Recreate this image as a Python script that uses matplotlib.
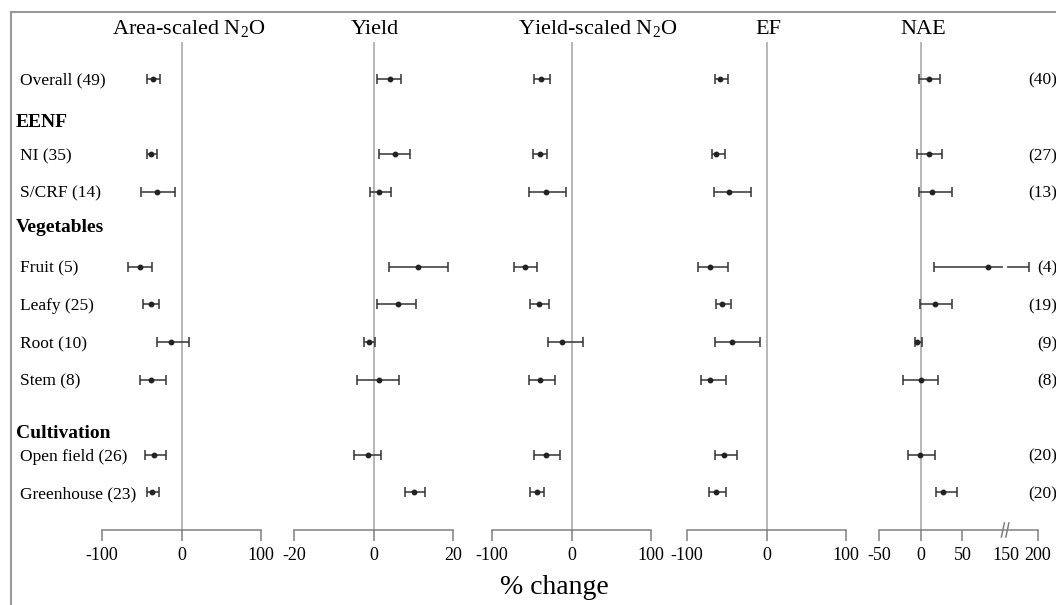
import numpy as np
import matplotlib
matplotlib.use('Agg')
import matplotlib.pyplot as plt
import matplotlib.transforms as mtransforms
from matplotlib.lines import Line2D

plt.rcParams['font.family'] = ['Liberation Serif', 'DejaVu Serif']
plt.rcParams['mathtext.fontset'] = 'custom'
plt.rcParams['mathtext.rm'] = 'Liberation Serif'
plt.rcParams['axes.unicode_minus'] = False

# rows (top to bottom)
row_labels = ['Overall (49)', 'NI (35)', 'S/CRF (14)', 'Fruit (5)', 'Leafy (25)',
              'Root (10)', 'Stem (8)', 'Open field (26)', 'Greenhouse (23)']
row_pos = [0, 2, 3, 5, 6, 7, 8, 10, 11]
group_labels = ['EENF', 'Vegetables', 'Cultivation']
group_pos = [1.12, 3.91, 9.39]
nae_n = ['(40)', '(27)', '(13)', '(4)', '(19)', '(9)', '(8)', '(20)', '(20)']

# % change: mean, lower CI, upper CI
area_mean = [-36, -38, -31, -52, -38, -13, -38, -34, -37]
area_lo = [-43, -44, -51, -67, -48, -31, -52, -46, -44]
area_hi = [-27, -31, -8, -37, -28, 10, -19, -20, -28]

yield_mean = [4.1, 5.4, 1.3, 11.1, 6.1, -1.1, 1.3, -1.4, 10.2]
yield_lo = [0.9, 1.3, -1.0, 3.9, 1.0, -2.4, -4.2, -5.0, 8.0]
yield_hi = [7.0, 9.3, 4.3, 18.7, 10.6, 0.4, 6.4, 1.8, 13.0]

ys_mean = [-38, -40, -32, -59, -41, -12, -39, -32, -44]
ys_lo = [-47, -49, -54, -72, -52, -30, -53, -47, -52]
ys_hi = [-27, -31, -7, -44, -28, 15, -21, -15, -35]

ef_mean = [-58, -63, -47, -71, -56, -44, -71, -54, -63]
ef_lo = [-65, -69, -66, -86, -64, -65, -83, -65, -72]
ef_hi = [-48, -52, -20, -48, -45, -8, -51, -37, -51]

nae_mean = [10, 10, 13, 81, 17, -4, 0, -1, 27]
nae_lo = [-2, -5, -2, 16, -1, -7, -21, -15, 18]
nae_hi = [23, 26, 38, 186, 38, 1, 21, 17, 43]

titles = [r'Area-scaled N$_{\mathrm{2}}$O', 'Yield', r'Yield-scaled N$_{\mathrm{2}}$O', 'EF', 'NAE']
title_x = [0.547, 0.51, 0.667, 0.51, 0.276]
panel_left = [102, 294, 492, 687, 879]
ticks = [[-100, 0, 100], [-20, 0, 20], [-100, 0, 100], [-100, 0, 100], [-50, 0, 50, 150, 200]]
limits = [(-100, 100), (-20, 20), (-100, 100), (-100, 100), (-50, 200)]
series = [(area_mean, area_lo, area_hi), (yield_mean, yield_lo, yield_hi),
          (ys_mean, ys_lo, ys_hi), (ef_mean, ef_lo, ef_hi), (nae_mean, nae_lo, nae_hi)]


def nae_fwd(v):
    v = np.asarray(v, dtype=float)
    return np.where(v <= 100, v,
                    np.where(v < 150, 100 + (v - 100) * 0.04, 102 + (v - 150) * 0.77))


def nae_inv(u):
    u = np.asarray(u, dtype=float)
    return np.where(u <= 100, u,
                    np.where(u < 102, 100 + (u - 100) / 0.04, 150 + (u - 102) / 0.77))


W, H = 1056, 605
fig = plt.figure(figsize=(W / 100, H / 100), dpi=100)
top_px, bot_px, width_px = 42, 530, 159

axes = []
for i in range(5):
    ax = fig.add_axes([panel_left[i] / W, (H - bot_px) / H, width_px / W, (bot_px - top_px) / H])
    if i == 4:
        ax.set_xscale('function', functions=(nae_fwd, nae_inv))
    mean, lo, hi = series[i]
    mean = np.array(mean, dtype=float)
    err = [mean - np.array(lo), np.array(hi) - mean]
    ax.axvline(0, color='#aaaaaa', lw=1.2, zorder=1)
    ax.errorbar(mean, row_pos, xerr=err, fmt='o', color='#222222', ms=3.2,
                elinewidth=1.1, capsize=3.6, capthick=1.1, ecolor='#333333', zorder=3)
    ax.set_xlim(*limits[i])
    ax.set_ylim(12.0, -0.98)
    ax.set_xticks(ticks[i])
    ax.set_xticklabels([str(t) for t in ticks[i]], fontsize=13)
    ax.tick_params(axis='x', direction='out', length=8, width=1.1, color='#808080', pad=4)
    ax.set_yticks([])
    for s in ['top', 'left', 'right']:
        ax.spines[s].set_visible(False)
    ax.spines['bottom'].set_color('#808080')
    ax.spines['bottom'].set_linewidth(1.1)
    ax.spines['bottom'].set_bounds(limits[i][0], limits[i][1])
    ax.patch.set_alpha(0)
    ax.text(title_x[i], 1.0 + (top_px - 29) / (bot_px - top_px), titles[i],
            transform=ax.transAxes, ha='center', va='center', fontsize=16, clip_on=False)
    axes.append(ax)

# NAE axis break: two slanted strokes across the axis line, gap in the long bar
nae = axes[4]
nae.xaxis.get_major_ticks()[3].tick1line.set_visible(False)
brk = mtransforms.blended_transform_factory(nae.transData, nae.transAxes)
xd, yd = brk.transform((150, 0))
for dx in (-3, 1.5):
    fig.add_artist(Line2D([xd + dx - 1.5, xd + dx + 1.5], [yd - 7, yd + 7],
                          transform=mtransforms.IdentityTransform(),
                          color='#808080', lw=1.1))
nae.plot([130], [row_pos[3]], marker='|', color='white', ms=7, mew=3, zorder=4)

# row labels and group headers
lab_tr = mtransforms.blended_transform_factory(fig.transFigure, axes[0].transData)
for lab, y in zip(row_labels, row_pos):
    axes[0].text(20 / W, y + 0.05, lab, transform=lab_tr, ha='left', va='center', fontsize=12.5)
for lab, y in zip(group_labels, group_pos):
    axes[0].text(16 / W, y + 0.05, lab, transform=lab_tr, ha='left', va='center',
                 fontsize=14, fontweight='bold')
for lab, y in zip(nae_n, row_pos):
    axes[0].text(1057 / W, y + 0.05, lab, transform=lab_tr, ha='right', va='center', fontsize=12.5)

fig.text(554 / W, 1 - 588 / H, '% change', ha='center', va='center', fontsize=20)

# outer frame
fig.add_artist(Line2D([11 / W, 11 / W], [0, 1 - 12 / H], transform=fig.transFigure,
                      color='#999999', lw=1.5))
fig.add_artist(Line2D([11 / W, 1], [1 - 12 / H, 1 - 12 / H], transform=fig.transFigure,
                      color='#999999', lw=1.5))

fig.savefig('out.png', dpi=100)
